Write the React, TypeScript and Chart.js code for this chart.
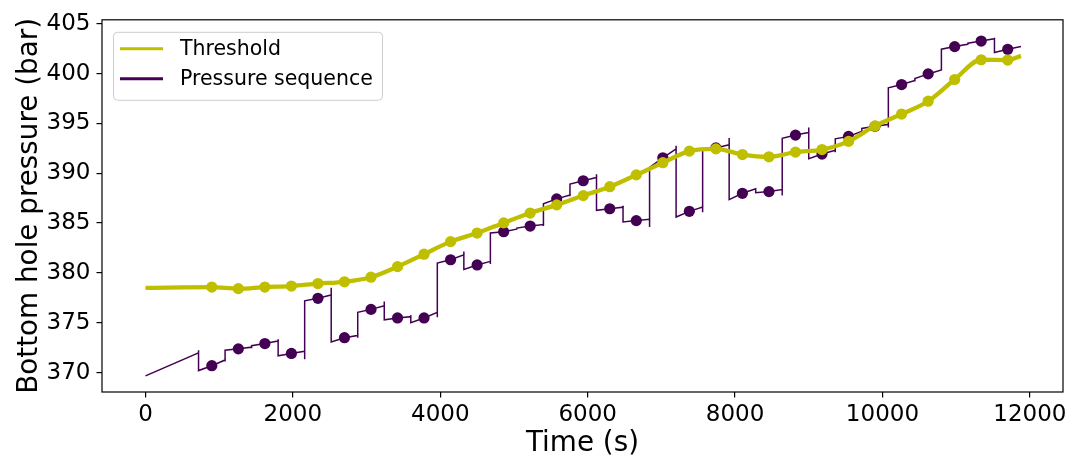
import React, { useEffect, useRef } from "react";
import { Chart, registerables } from "chart.js";

Chart.register(...registerables);

const FONT = '"DejaVu Sans", "Liberation Sans", sans-serif';
const OLIVE = "#bfbf00";
const PURPLE = "#440154";

// Sampling instants (s) where threshold and pressure are evaluated
const sampleTimes = [
  900, 1260, 1620, 1980, 2340, 2700, 3060, 3420, 3780, 4140, 4500, 4860, 5220, 5580, 5940, 6300,
  6660, 7020, 7380, 7740, 8100, 8460, 8820, 9180, 9540, 9900, 10260, 10620, 10980, 11340, 11700,
];

// Boundaries (s) of the pressure steps; step k runs from stepEdges[k] to stepEdges[k + 1]
const stepEdges = [
  720, 1080, 1440, 1800, 2160, 2520, 2880, 3240, 3600, 3960, 4320, 4680, 5040, 5400, 5760, 6120,
  6480, 6840, 7200, 7560, 7920, 8280, 8640, 9000, 9360, 9720, 10080, 10440, 10800, 11160, 11520,
  11880,
];

// Threshold (bar)
const thresholdFirst = 378.5; // at t = 0
const thresholdLast = 401.78; // at the last step edge
const threshold = [
  378.58, 378.42, 378.58, 378.68, 378.93, 379.11, 379.57, 380.63, 381.88, 383.14, 384.0, 385.02,
  386.01, 386.83, 387.76, 388.65, 389.84, 391.06, 392.22, 392.45, 391.88, 391.65, 392.12, 392.38,
  393.2, 394.75, 395.94, 397.23, 399.41, 401.39, 401.36,
];

// Pressure sequence (bar): sampled values
const pressureSamples = [
  370.69, 372.38, 372.91, 371.92, 377.45, 373.5, 376.34, 375.48, 375.48, 381.32, 380.8, 384.13,
  384.7, 387.43, 389.25, 386.44, 385.25, 391.55, 386.18, 392.54, 387.99, 388.16, 393.83, 391.93,
  393.7, 394.72, 398.9, 399.97, 402.71, 403.27, 402.44,
];

// Initial ramp before the first step (bar)
const rampFrom = 369.67;
const rampTo = 371.98;
const rampKick = 372.25;

// Level right after each step change, just before the next one, and the short kick at the switch
const stepStart = [
  370.2, 372.25, 372.7, 371.68, 377.2, 373.07, 376.04, 375.29, 375.0, 380.99, 380.34, 384.0, 384.5,
  386.93, 388.91, 386.28, 385.12, 390.6, 385.61, 392.3, 387.35, 388.05, 393.5, 391.46, 393.45,
  394.5, 398.58, 399.5, 402.45, 403.05, 402.12,
];
const stepEnd = [
  371.26, 372.55, 373.17, 372.15, 377.79, 373.73, 376.7, 375.61, 376.04, 381.82, 381.16, 384.4,
  384.85, 387.82, 389.57, 386.6, 385.38, 392.45, 386.6, 392.87, 388.45, 388.36, 394.1, 392.3,
  394.2, 394.9, 399.3, 400.37, 402.95, 403.5, 402.71,
];
const stepKick = [
  371.1, 372.45, 373.35, 371.33, 378.5, 373.5, 377.13, 375.75, 375.55, 382.15, 380.9, 384.35,
  384.7, 387.7, 389.9, 386.75, 384.62, 392.77, 386.1, 393.53, 388.5, 387.76, 394.6, 392.1, 394.1,
  394.6, 399.2, 400.5, 402.9, 403.6, 402.71,
];

const xTicks = [0, 2000, 4000, 6000, 8000, 10000, 12000];
const yTicks = [370, 375, 380, 385, 390, 395, 400, 405];

const framePlugin = {
  id: "frame",
  afterDatasetsDraw(chart: any) {
    const { ctx, chartArea: a } = chart;
    ctx.save();
    ctx.strokeStyle = "#000";
    ctx.lineWidth = 1.2;
    ctx.strokeRect(a.left, a.top, a.right - a.left, a.bottom - a.top);
    ctx.restore();
  },
};

const boxLegendPlugin = {
  id: "boxLegend",
  afterDraw(chart: any) {
    const { ctx, chartArea: a } = chart;
    const entries = [
      { label: chart.data.datasets[0].label, color: OLIVE },
      { label: chart.data.datasets[2].label, color: PURPLE },
    ];
    const x = a.left + 11;
    const y = a.top + 12;
    const w = 269;
    const h = 68;
    ctx.save();
    ctx.beginPath();
    ctx.roundRect(x + 0.5, y + 0.5, w, h, 4);
    ctx.fillStyle = "rgba(255,255,255,0.8)";
    ctx.fill();
    ctx.strokeStyle = "#cccccc";
    ctx.lineWidth = 1;
    ctx.stroke();
    ctx.font = `20.5px ${FONT}`;
    ctx.textBaseline = "middle";
    entries.forEach((e, i) => {
      const cy = y + 17 + i * 30;
      ctx.beginPath();
      ctx.moveTo(x + 7, cy);
      ctx.lineTo(x + 50, cy);
      ctx.strokeStyle = e.color;
      ctx.lineWidth = 3;
      ctx.stroke();
      ctx.fillStyle = "#000";
      ctx.fillText(e.label, x + 67, cy + 1);
    });
    ctx.restore();
  },
};

export default function App() {
  const ref = useRef<HTMLCanvasElement>(null);

  useEffect(() => {
    const canvas = ref.current;
    if (!canvas) return;

    const lastEdge = stepEdges[stepEdges.length - 1];
    const thresholdPoints = [
      { x: 0, y: thresholdFirst },
      ...sampleTimes.map((t, i) => ({ x: t, y: threshold[i] })),
      { x: lastEdge, y: thresholdLast },
    ];
    const thresholdRadius = thresholdPoints.map((_, i) =>
      i === 0 || i === thresholdPoints.length - 1 ? 0 : 5.6
    );

    const pressureLine: { x: number; y: number }[] = [
      { x: 0, y: rampFrom },
      { x: stepEdges[0], y: rampTo },
      { x: stepEdges[0], y: rampKick },
    ];
    sampleTimes.forEach((t, k) => {
      pressureLine.push({ x: stepEdges[k], y: stepStart[k] });
      pressureLine.push({ x: t, y: pressureSamples[k] });
      pressureLine.push({ x: stepEdges[k + 1], y: stepEnd[k] });
      if (k < sampleTimes.length - 1) pressureLine.push({ x: stepEdges[k + 1], y: stepKick[k] });
    });
    const pressureDots = sampleTimes.map((t, i) => ({ x: t, y: pressureSamples[i] }));

    const tickFont = { family: FONT, size: 23 };
    const titleFont = { family: FONT, size: 27.8 };

    const chart = new Chart(canvas, {
      type: "line",
      data: {
        datasets: [
          {
            label: "Threshold",
            data: thresholdPoints,
            borderColor: OLIVE,
            backgroundColor: OLIVE,
            borderWidth: 4.3,
            pointRadius: thresholdRadius,
            pointBorderWidth: 0,
            pointBackgroundColor: OLIVE,
            cubicInterpolationMode: "monotone",
            fill: false,
          },
          {
            label: "Pressure samples",
            data: pressureDots,
            showLine: false,
            borderColor: PURPLE,
            backgroundColor: PURPLE,
            pointRadius: 5.6,
            pointBorderWidth: 0,
            pointBackgroundColor: PURPLE,
          },
          {
            label: "Pressure sequence",
            data: pressureLine,
            borderColor: PURPLE,
            backgroundColor: PURPLE,
            borderWidth: 1.5,
            pointRadius: 0,
            tension: 0,
            fill: false,
          },
        ],
      },
      options: {
        responsive: false,
        animation: false,
        devicePixelRatio: 1,
        layout: { padding: { top: 15, right: 11, left: 0, bottom: 0 } },
        plugins: { legend: { display: false }, tooltip: { enabled: false } },
        scales: {
          x: {
            type: "linear",
            min: -590,
            max: 12450,
            afterBuildTicks: (s: any) => {
              s.ticks = xTicks.map((v) => ({ value: v }));
            },
            afterFit: (s: any) => {
              s.height = 71;
            },
            ticks: {
              font: tickFont,
              color: "#000",
              padding: 4,
              maxRotation: 0,
              autoSkip: false,
              callback: (v: any) => String(v),
            },
            grid: {
              drawOnChartArea: false,
              drawTicks: true,
              tickLength: 5.5,
              color: "#000",
              lineWidth: 1.2,
            },
            border: { display: false },
            title: {
              display: true,
              text: "Time (s)",
              font: titleFont,
              color: "#000",
              padding: { top: 0, bottom: 3 },
            },
          },
          y: {
            type: "linear",
            min: 368.05,
            max: 405.4,
            afterBuildTicks: (s: any) => {
              s.ticks = yTicks.map((v) => ({ value: v }));
            },
            afterFit: (s: any) => {
              s.width = 102;
            },
            ticks: {
              font: tickFont,
              color: "#000",
              padding: 6,
              autoSkip: false,
              callback: (v: any) => String(v),
            },
            grid: {
              drawOnChartArea: false,
              drawTicks: true,
              tickLength: 5.5,
              color: "#000",
              lineWidth: 1.2,
            },
            border: { display: false },
            title: {
              display: true,
              text: "Bottom hole pressure (bar)",
              font: titleFont,
              color: "#000",
              padding: { top: 13, bottom: 0 },
            },
          },
        },
      },
      plugins: [framePlugin, boxLegendPlugin],
    });

    return () => chart.destroy();
  }, []);

  return (
    <canvas
      ref={ref}
      width={1074}
      height={463}
      style={{ position: "absolute", left: 0, top: 0, display: "block" }}
    />
  );
}
